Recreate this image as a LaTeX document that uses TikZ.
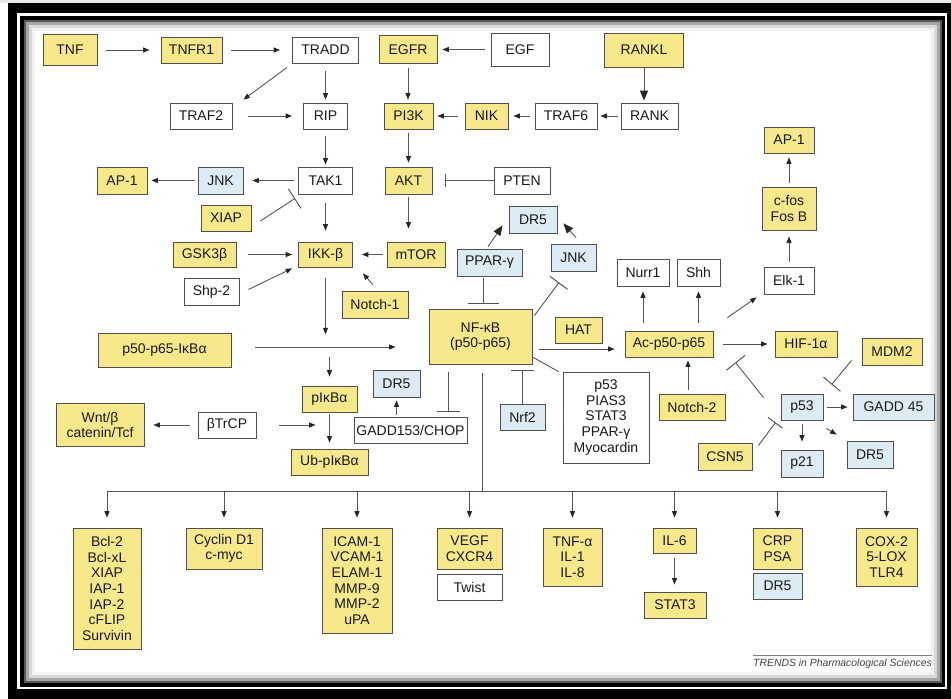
\documentclass[tikz,border=0pt]{standalone}
\usepackage{fontspec}
\setmainfont{Liberation Sans}
\usetikzlibrary{arrows.meta,calc}
\definecolor{yel}{RGB}{247,232,140}
\definecolor{blu}{RGB}{221,235,245}
\definecolor{bord}{RGB}{80,80,80}
\definecolor{ln}{RGB}{85,85,85}
\newcommand{\nbox}[7]{\node[#1,minimum width=#5pt,minimum height=#6pt] (#2) at (#3,#4) {#7};}
\begin{document}
\begin{tikzpicture}[x=1pt,y=-1pt,
  box/.style={draw=bord,line width=0.8pt,inner sep=0pt,align=center,
    font=\fontsize{14pt}{15.7pt}\selectfont,text=black!90},
  Y/.style={box,fill=yel},
  B/.style={box,fill=blu},
  W/.style={box,fill=white},
  arr/.style={draw=ln,line width=0.9pt,-{Triangle[length=6.5pt,width=5pt,color=black!85]}},
  bigarr/.style={draw=ln,line width=0.9pt,-{Triangle[length=10pt,width=8pt,color=black!85]}},
  inh/.style={draw=ln,line width=0.9pt,-{Bar[width=#1,line width=1pt]}},
  inh/.default=23pt,
  plain/.style={draw=ln,line width=0.9pt}]
\useasboundingbox (0,0) rectangle (951,699);
% frame
\fill[white] (0,0) rectangle (951,699);
\fill[black!8] (0,0) rectangle (951,3);
\fill[black] (8,3) rectangle (951,699);
\fill[white] (17,13) rectangle (947,689);
\fill[black] (20,16) rectangle (945,687);
\fill[white] (24,20) rectangle (942,683);
\draw[black!65,line width=2pt] (25,21) rectangle (941,682);
\draw[black!35,line width=3pt] (27.5,23.5) rectangle (938.5,679.5);
\draw[black!15,line width=3pt] (30.5,26.5) rectangle (935.5,676.5);
\draw[black!5,line width=3pt] (33.5,29.5) rectangle (932.5,673.5);

% row 1
\nbox{Y}{TNF}{70}{50}{54}{31}{TNF}
\nbox{Y}{TNFR1}{191.5}{50}{61}{26}{TNFR1}
\nbox{W}{TRADD}{325.5}{50}{66}{26}{TRADD}
\nbox{Y}{EGFR}{408}{49.5}{58}{28}{EGFR}
\nbox{W}{EGF}{520}{49.5}{58}{33}{EGF}
\nbox{Y}{RANKL}{644}{50}{79}{34}{RANKL}
% row 2
\nbox{W}{TRAF2}{201}{116}{62}{26}{TRAF2}
\nbox{W}{RIP}{325.5}{116}{44}{26}{RIP}
\nbox{Y}{PI3K}{408.5}{116}{49}{26}{PI3K}
\nbox{Y}{NIK}{486.5}{116}{43}{26}{NIK}
\nbox{W}{TRAF6}{566}{116}{62}{26}{TRAF6}
\nbox{W}{RANK}{649.5}{116}{57}{26}{RANK}
% row 3
\nbox{Y}{AP1L}{122}{180.5}{50}{27}{AP-1}
\nbox{B}{JNKL}{220.5}{180.5}{45}{27}{JNK}
\nbox{W}{TAK1}{325.5}{180.5}{54}{27}{TAK1}
\nbox{Y}{AKT}{408.5}{180.5}{47}{27}{AKT}
\nbox{W}{PTEN}{522}{180.5}{56}{27}{PTEN}
\nbox{Y}{AP1R}{789}{140}{50}{26}{AP-1}
\nbox{Y}{cfos}{789}{208.5}{54}{43}{c-fos\\Fos B}
\nbox{Y}{XIAP}{226}{218}{50}{26}{XIAP}
\nbox{B}{DR5t}{533}{219.5}{48}{27}{DR5}
% row 4
\nbox{Y}{GSK}{204.5}{254.5}{63}{25}{GSK3β}
\nbox{Y}{IKK}{325.5}{254.5}{54}{25}{IKK-β}
\nbox{Y}{mTOR}{416}{254.5}{58}{25}{mTOR}
\nbox{B}{PPAR}{489.5}{262.5}{65}{27}{PPAR-γ}
\nbox{B}{JNKR}{573.5}{257.5}{45}{27}{JNK}
\nbox{W}{Nurr1}{643}{272.5}{52}{27}{Nurr1}
\nbox{W}{Shh}{698.5}{272.5}{43}{27}{Shh}
\nbox{W}{Elk}{789}{280.5}{50}{27}{Elk-1}
\nbox{W}{Shp}{211.5}{291.5}{55}{27}{Shp-2}
\nbox{Y}{Notch1}{375}{304.5}{66}{27}{Notch-1}
% middle
\nbox{Y}{NF}{480.5}{336.5}{103}{55}{NF-κB\\(p50-p65)}
\nbox{Y}{HAT}{578.5}{330}{47}{26}{HAT}
\nbox{Y}{Ac}{669}{344}{88}{26}{Ac-p50-p65}
\nbox{Y}{HIF}{806}{344}{62}{26}{HIF-1α}
\nbox{Y}{MDM2}{892}{351.5}{60}{27}{MDM2}
\nbox{Y}{pfifty}{164.5}{350}{133}{34}{p50-p65-IκBα}
\nbox{B}{DR5m}{396.5}{383.5}{47}{27}{DR5}
\nbox{W}{plist}{606}{417.5}{86}{91}{p53\\PIAS3\\STAT3\\PPAR-γ\\Myocardin}
\nbox{Y}{pIkB}{329.5}{399}{55}{26}{pIκBα}
\nbox{B}{Nrf2}{522.5}{417}{45}{26}{Nrf2}
\nbox{Y}{Notch2}{692}{407}{66}{26}{Notch-2}
\nbox{B}{p53b}{802}{407}{42}{26}{p53}
\nbox{B}{GADD45}{893.5}{407}{81}{26}{GADD 45}
\nbox{Y}{Wnt}{100}{425}{88}{43}{Wnt/β\\catenin/Tcf}
\nbox{W}{bTrCP}{227}{425}{58}{26}{βTrCP}
\nbox{W}{GADD}{410.5}{430}{113}{26}{GADD153/CHOP}
\nbox{Y}{CSN5}{725}{456.5}{54}{27}{CSN5}
\nbox{B}{p21}{802}{463.5}{42}{27}{p21}
\nbox{B}{DR5r}{870}{454.5}{46}{27}{DR5}
\nbox{Y}{Ub}{329.5}{462}{77}{26}{Ub-pIκBα}
% bottom
\nbox{Y}{Bcl}{107}{588.5}{68}{121}{Bcl-2\\Bcl-xL\\XIAP\\IAP-1\\IAP-2\\cFLIP\\Survivin}
\nbox{Y}{Cyc}{224}{548.5}{76}{41}{Cyclin D1\\c-myc}
\nbox{Y}{ICAM}{357}{580.5}{70}{105}{ICAM-1\\VCAM-1\\ELAM-1\\MMP-9\\MMP-2\\uPA}
\nbox{Y}{VEGF}{469.5}{548.5}{65}{41}{VEGF\\CXCR4}
\nbox{W}{Twist}{469.5}{587}{65}{26}{Twist}
\nbox{Y}{TNFa}{572.5}{557}{59}{58}{TNF-α\\IL-1\\IL-8}
\nbox{Y}{IL6}{674.5}{540.5}{43}{25}{IL-6}
\nbox{Y}{STAT3}{675}{605}{62}{26}{STAT3}
\nbox{Y}{CRP}{777.5}{548.5}{49}{41}{CRP\\PSA}
\nbox{B}{DR5b}{777.5}{586}{49}{26}{DR5}
\nbox{Y}{COX}{886.5}{557}{61}{58}{COX-2\\5-LOX\\TLR4}

% connectors, top
\draw[arr] ($(TNF.east)+(9,0)$) -- ($(TNFR1.west)+(-11,0)$);
\draw[arr] ($(TNFR1.east)+(9,0)$) -- ($(TRADD.west)+(-12,0)$);
\draw[arr] ($(EGF.west)+(-6,0)$) -- ($(EGFR.east)+(5,0)$);
\draw[bigarr] ($(RANKL.south)+(0,1)$) -- ($(RANKL.south |- RANK.north)+(0,-2)$);
\draw[arr] ($(TRADD.south west)+(-5,4)$) -- ($(TRAF2.north east)+(11,-3)$);
\draw[arr] ($(TRADD.south)+(0,8)$) -- ($(RIP.north)+(0,-3)$);
\draw[arr] ($(EGFR.south)+(0,4)$) -- ($(EGFR.south |- PI3K.north)+(0,-3)$);
\draw[arr] ($(TRAF2.east)+(16,0)$) -- ($(RIP.west)+(-11,0)$);
\draw[arr] ($(NIK.west)+(-7,0)$) -- ($(PI3K.east)+(4,0)$);
\draw[arr] ($(TRAF6.west)+(-5,0)$) -- ($(NIK.east)+(5,0)$);
\draw[arr] ($(RANK.west)+(-3,0)$) -- ($(TRAF6.east)+(3,0)$);
\draw[arr] ($(RIP.south)+(0,7)$) -- ($(TAK1.north)+(0,-2)$);
\draw[arr] ($(TAK1.west)+(-4,0)$) -- ($(JNKL.east)+(9,0)$);
\draw[arr] ($(JNKL.west)+(-3,0)$) -- ($(AP1L.east)+(4,0)$);
\draw[arr] ($(PI3K.south)+(0,4)$) -- ($(AKT.north)+(0,-4)$);
\draw[arr] ($(AKT.south)+(0,3)$) -- ($(AKT.south |- mTOR.north)+(0,-13)$);
\draw[inh=13pt] (PTEN.west) -- ($(AKT.east)+(13,0)$);
\draw[inh=23pt] ($(XIAP.east)+(9,3)$) -- ($(TAK1.south west)+(-3,4)$);
\draw[arr] ($(TAK1.south)+(0,9)$) -- ($(IKK.north)+(0,-11)$);
\draw[arr] ($(GSK.east)+(12,0)$) -- ($(IKK.west)+(-6,0)$);
\draw[arr] ($(mTOR.west)+(-4,0)$) -- ($(IKK.east)+(9,0)$);
\draw[arr] ($(Shp.east)+(9,-2)$) -- ($(IKK.south west)+(-6,1)$);
\draw[arr] ($(Notch1.north)+(-2,-6)$) -- ($(IKK.south east)+(10,6)$);
% IKK / NF-kB
\draw[arr] ($(IKK.south)+(0,11)$) -- ($(IKK.south)+(0,67)$);
\draw[arr] ($(pfifty.east)+(24,-3)$) -- ($(NF.west)+(-33,10.5)$);
\draw[arr] ($(pIkB.north)+(0,-29)$) -- ($(pIkB.north)+(0,-9)$);
\draw[arr] ($(pIkB.south)+(0,2)$) -- ($(Ub.north)+(0,-6)$);
\draw[arr] ($(bTrCP.west)+(-8,0)$) -- ($(Wnt.east)+(9,0)$);
\draw[arr] ($(bTrCP.east)+(23,0)$) -- ($(bTrCP.east -| pIkB.center)+(-14,0)$);
\draw[arr] ($(DR5m.south |- GADD.north)+(0,-2)$) -- ($(DR5m.south)+(0,3)$);
\draw[inh] ($(NF.south)+(-32.5,8)$) -- ($(GADD.north)+(37.5,-5)$);
\draw[bigarr] ($(PPAR.north)+(-1.5,-2)$) -- ($(DR5t.south west)+(-6,-8)$);
\draw[bigarr] ($(JNKR.north)+(2.5,-6)$) -- ($(DR5t.south east)+(6,-10)$);
\draw[inh=31pt] ($(PPAR.south)+(-6.5,2)$) -- ($(NF.north)+(2.5,-5)$);
\draw[inh=22pt] ($(NF.north east)+(2,7)$) -- ($(JNKR.south)+(-14.5,11)$);
\draw[arr] ($(NF.east)+(7,12.5)$) -- ($(Ac.west)+(-10,5)$);
\draw[plain] ($(NF.east)+(0,20.5)$) -- ($(plist.north west)+(-4,0)$);
\draw[inh] (Nrf2.north) -- ($(Nrf2.north |- NF.south)+(0,6)$);
% Ac-p50-p65 region
\draw[arr] ($(Nurr1.south |- Ac.north)+(0,-8)$) -- ($(Nurr1.south)+(0,5)$);
\draw[arr] ($(Shh.south |- Ac.north)+(0,-8)$) -- ($(Shh.south)+(0,5)$);
\draw[arr] ($(Ac.north east)+(14,-13)$) -- ($(Elk.south west)+(-7,3)$);
\draw[arr] ($(Elk.north)+(0,-5)$) -- ($(cfos.south)+(0,6)$);
\draw[arr] ($(cfos.north)+(0,-4)$) -- ($(AP1R.south)+(0,4)$);
\draw[arr] ($(Ac.east)+(10,0)$) -- ($(HIF.west)+(-7,0)$);
\draw[arr] ($(Notch2.north)+(-4,-4)$) -- ($(Notch2.north |- Ac.south)+(-4,3)$);
\draw[inh=24pt] ($(p53b.north west)+(-17,4)$) -- ($(Ac.south east)+(22,5)$);
\draw[inh=22pt] ($(MDM2.south west)+(-10,-5)$) -- ($(GADD45.north west)+(-21,-9)$);
\draw[arr] ($(p53b.east)+(4,0)$) -- ($(GADD45.west)+(-5,0)$);
\draw[arr] ($(p53b.south)+(0,4)$) -- ($(p21.north)+(0,-8)$);
\draw[arr] ($(p53b.south east)+(3,8)$) -- ($(DR5r.north west)+(-10,-6)$);
\draw[inh=18pt] ($(CSN5.north east)+(6,3)$) -- ($(p53b.south west)+(-5,2)$);
% bus
\coordinate (busL) at (107,491);
\coordinate (nfd) at ($(NF.south)+(1.5,9)$);
\draw[plain] (nfd) -- (nfd |- busL);
\draw[plain] (busL -| Bcl.north) -- (busL -| COX.north);
\foreach \n in {Bcl,Cyc,ICAM,VEGF,TNFa,IL6,CRP,COX}
  \draw[arr] (busL -| \n.north) -- ($(\n.north)+(0,-10)$);
\draw[arr] ($(IL6.south)+(0,5)$) -- ($(IL6.south |- STAT3.north)+(0,-7)$);
% caption
\node[anchor=base east,inner sep=0pt,font=\fontsize{10.4pt}{12pt}\selectfont\itshape,text=black!75] (trends) at (932,666) {TRENDS in Pharmacological Sciences};
\draw[black!50,line width=0.6pt] ($(trends.north west)+(0,-3)$) -- ($(trends.north east)+(0,-3)$);
\end{tikzpicture}
\end{document}
